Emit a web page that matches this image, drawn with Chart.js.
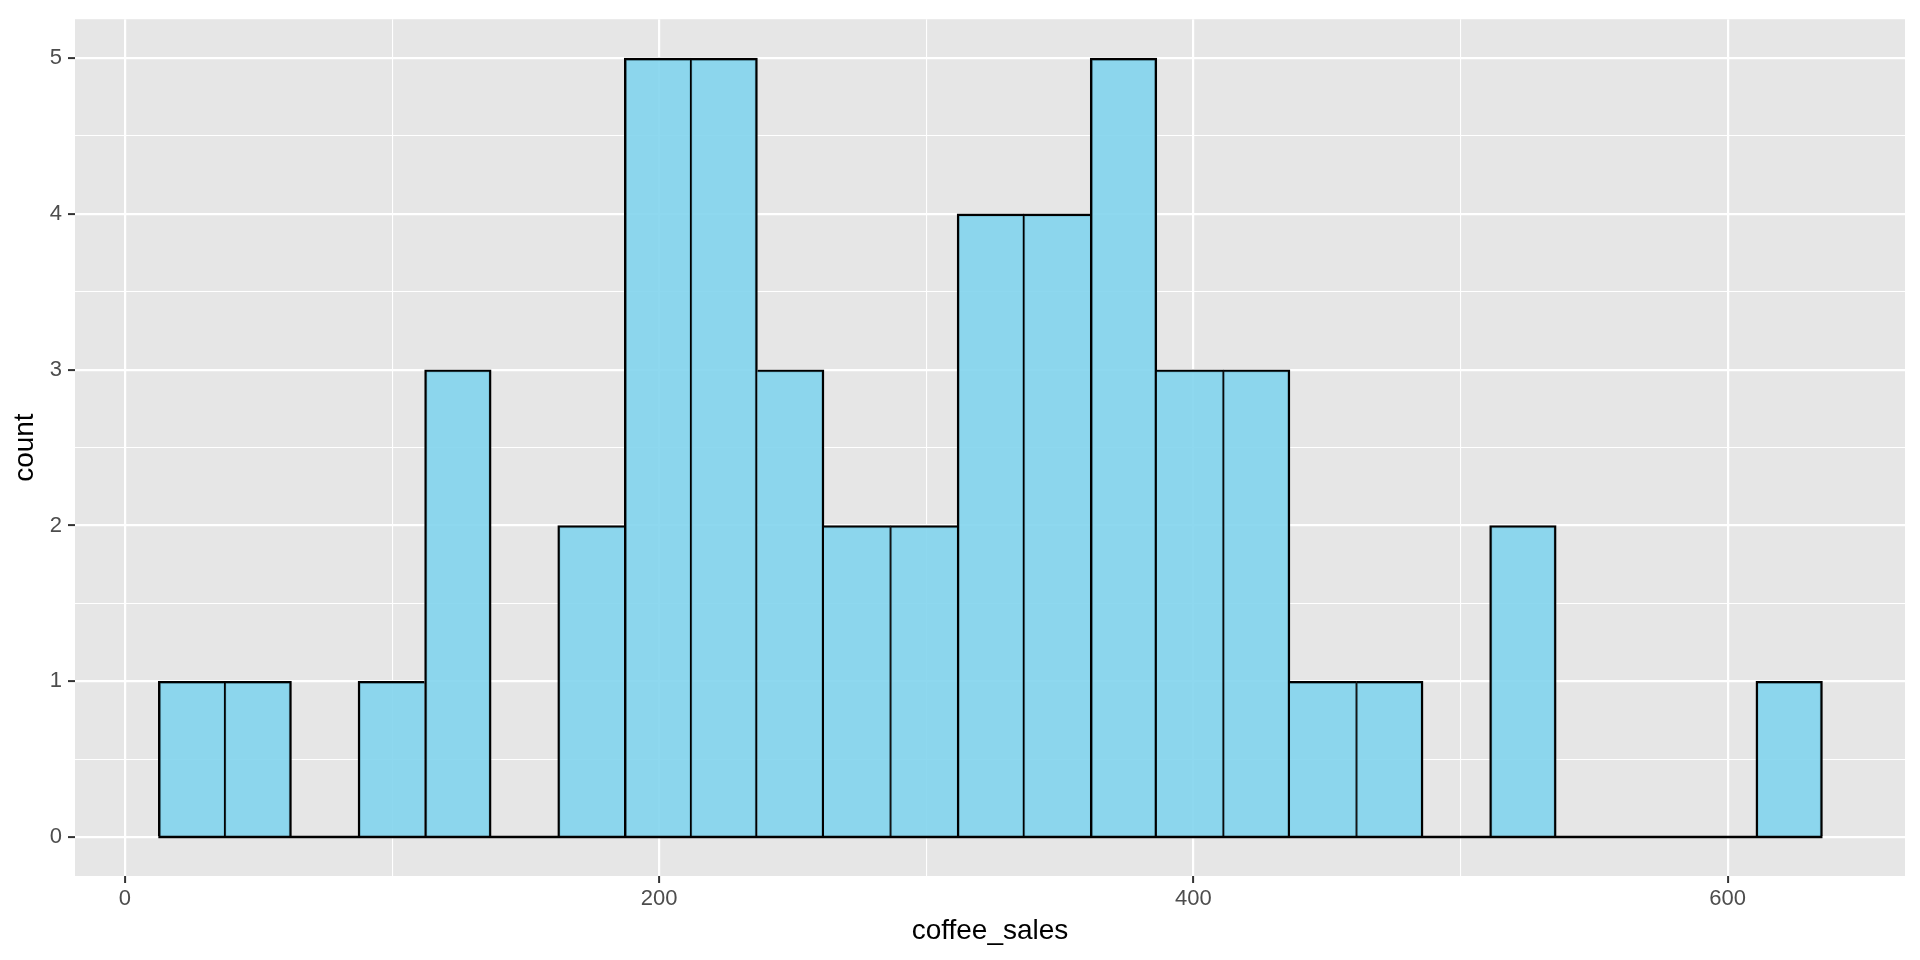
<!DOCTYPE html>
<html>
<head>
<meta charset="utf-8">
<title>coffee_sales histogram</title>
<script src="https://cdn.jsdelivr.net/npm/chart.js@4/dist/chart.umd.min.js"></script>
<style>
  html, body { margin: 0; padding: 0; background: #FFFFFF; }
  #wrap { width: 1920px; height: 960px; }
</style>
</head>
<body>
<div id="wrap"><canvas id="histChart" width="1920" height="960"></canvas></div>
<script>
// histogram bins (coffee_sales)
var binStart = 12.5;
var binWidth = 24.92;
var counts = [1, 1, 0, 1, 3, 0, 2, 5, 5, 3, 2, 2, 4, 4, 5, 3, 3, 1, 1, 0, 2, 0, 0, 0, 1];

// axis ticks
var xTicks = [0, 200, 400, 600];
var xMinor = [100, 300, 500];
var yTicks = [0, 1, 2, 3, 4, 5];
var yMinor = [0.5, 1.5, 2.5, 3.5, 4.5];

var xLabel = 'coffee_sales';
var yLabel = 'count';

// bar points at bin centres
var barData = counts.map(function(c, i) {
    return { x: binStart + binWidth * (i + 0.5), y: c };
});
// outline along the bottom of all bins (ggplot draws empty bins as a flat line)
var baseData = [
    { x: binStart, y: 0 },
    { x: binStart + binWidth * counts.length, y: 0 }
];

var edge = 2.4; // outline width

function isIn(list, v) {
    return list.indexOf(v) !== -1;
}

// width of a bar side so that shared edges come out as one line
function sideWidth(cur, other) {
    if (other === 0 || other < cur) return edge;
    if (other > cur) return 0;
    return edge / 2;
}

// grey panel behind the grid
var panelBg = {
    id: 'panelBg',
    beforeDraw: function(chart) {
        var a = chart.chartArea;
        var ctx = chart.ctx;
        ctx.save();
        ctx.fillStyle = '#E6E6E6';
        ctx.fillRect(a.left, a.top, a.right - a.left, a.bottom - a.top);
        ctx.restore();
    }
};

var ctx = document.getElementById('histChart').getContext('2d');
var histChart = new Chart(ctx, {
    type: 'bar',
    data: {
        datasets: [
            {
                type: 'line',
                data: baseData,
                borderColor: '#000000',
                borderWidth: edge,
                pointRadius: 0,
                fill: false,
                order: 0
            },
            {
                label: 'count',
                data: barData,
                backgroundColor: 'rgba(130, 212, 237, 0.9)',
                borderColor: '#000000',
                borderWidth: function(c) {
                    var i = c.dataIndex;
                    var prev = i > 0 ? counts[i - 1] : 0;
                    var next = i < counts.length - 1 ? counts[i + 1] : 0;
                    return {
                        top: edge,
                        bottom: 0,
                        left: sideWidth(counts[i], prev),
                        right: sideWidth(counts[i], next)
                    };
                },
                borderSkipped: false,
                barPercentage: 1,
                categoryPercentage: 1,
                order: 1
            }
        ]
    },
    options: {
        responsive: false,
        animation: false,
        layout: {
            padding: { top: 15, right: 15, left: 0, bottom: 0 }
        },
        plugins: {
            legend: { display: false },
            tooltip: { enabled: false }
        },
        scales: {
            x: {
                type: 'linear',
                min: -18.7,
                max: 666.4,
                offset: false,
                border: { display: false },
                afterBuildTicks: function(scale) {
                    scale.ticks = xTicks.concat(xMinor).sort(function(a, b) { return a - b; })
                        .map(function(v) { return { value: v }; });
                },
                afterFit: function(scale) {
                    scale.height = 84;
                },
                grid: {
                    offset: false,
                    color: '#FFFFFF',
                    lineWidth: function(c) { return isIn(xTicks, c.tick.value) ? 2.2 : 1.1; },
                    tickColor: function(c) { return isIn(xTicks, c.tick.value) ? '#333333' : 'rgba(0,0,0,0)'; },
                    tickLength: 7,
                    tickWidth: 2
                },
                ticks: {
                    autoSkip: false,
                    maxRotation: 0,
                    padding: 3,
                    color: '#4D4D4D',
                    font: { family: '"Liberation Sans", Arial, sans-serif', size: 22 },
                    callback: function(v) { return isIn(xTicks, v) ? String(v) : ''; }
                },
                title: {
                    display: true,
                    text: xLabel,
                    color: '#000000',
                    font: { family: '"Liberation Sans", Arial, sans-serif', size: 28 },
                    padding: { top: 0, bottom: 12 }
                }
            },
            y: {
                type: 'linear',
                min: -0.25,
                max: 5.25,
                border: { display: false },
                afterBuildTicks: function(scale) {
                    scale.ticks = yTicks.concat(yMinor).sort(function(a, b) { return a - b; })
                        .map(function(v) { return { value: v }; });
                },
                afterFit: function(scale) {
                    scale.width = 75;
                },
                grid: {
                    color: '#FFFFFF',
                    lineWidth: function(c) { return isIn(yTicks, c.tick.value) ? 2.2 : 1.1; },
                    tickColor: function(c) { return isIn(yTicks, c.tick.value) ? '#333333' : 'rgba(0,0,0,0)'; },
                    tickLength: 7,
                    tickWidth: 2
                },
                ticks: {
                    autoSkip: false,
                    padding: 6,
                    color: '#4D4D4D',
                    font: { family: '"Liberation Sans", Arial, sans-serif', size: 22 },
                    callback: function(v) { return isIn(yTicks, v) ? String(v) : ''; }
                },
                title: {
                    display: true,
                    text: yLabel,
                    color: '#000000',
                    font: { family: '"Liberation Sans", Arial, sans-serif', size: 28 },
                    padding: { top: 8.5, bottom: 0 }
                }
            }
        }
    },
    plugins: [panelBg]
});
</script>
</body>
</html>
